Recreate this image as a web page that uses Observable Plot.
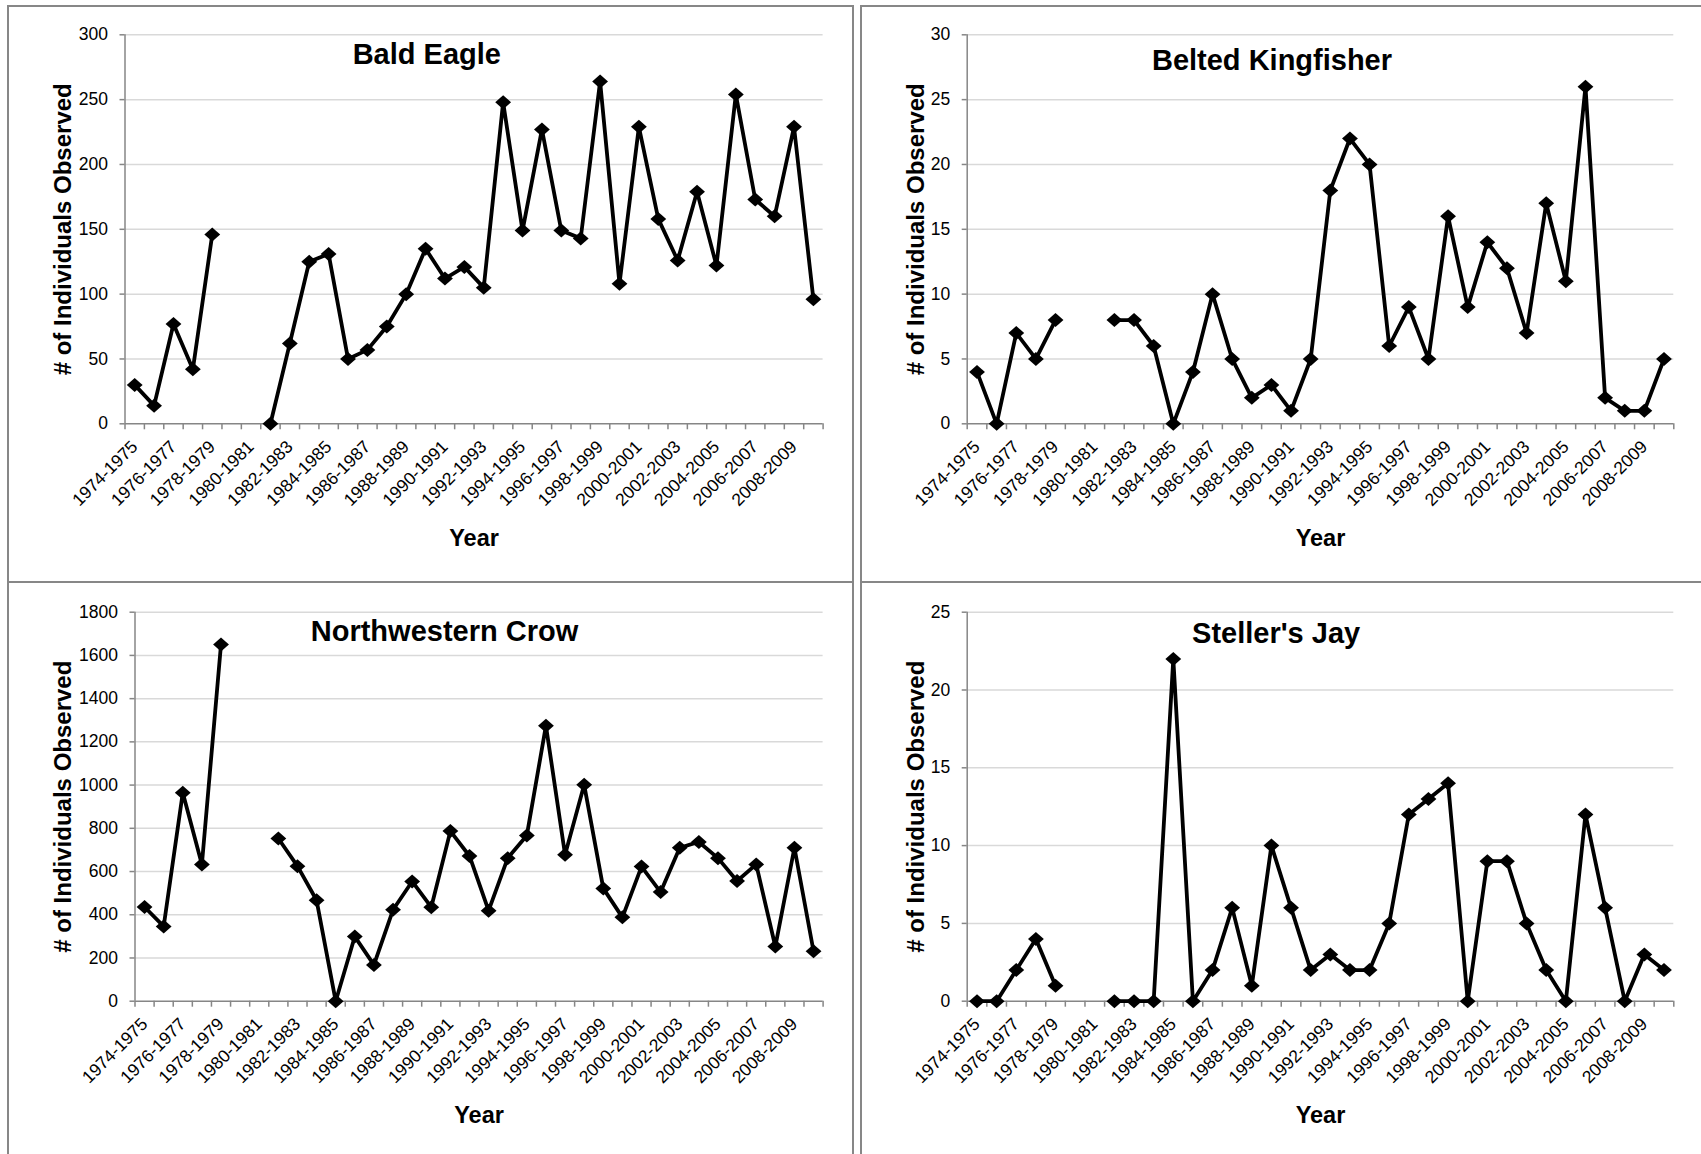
<!DOCTYPE html>
<html>
<head>
<meta charset="utf-8">
<script src="https://cdn.jsdelivr.net/npm/d3@7"></script>
<script src="https://cdn.jsdelivr.net/npm/@observablehq/plot@0.6"></script>
<style>
  html, body { margin: 0; padding: 0; background: #fff; }
  #board { position: relative; width: 1701px; height: 1154px; overflow: hidden; background: #fff; }
  .panel { position: absolute; box-sizing: border-box; border: 2px solid #878787; }
  .chart { position: absolute; }
</style>
</head>
<body>
<div id="board"></div>
<script>
// Christmas bird count seasons (x categories)
const seasons = [
  "1974-1975", "1975-1976", "1976-1977", "1977-1978", "1978-1979", "1979-1980",
  "1980-1981", "1981-1982", "1982-1983", "1983-1984", "1984-1985", "1985-1986",
  "1986-1987", "1987-1988", "1988-1989", "1989-1990", "1990-1991", "1991-1992",
  "1992-1993", "1993-1994", "1994-1995", "1995-1996", "1996-1997", "1997-1998",
  "1998-1999", "1999-2000", "2000-2001", "2001-2002", "2002-2003", "2003-2004",
  "2004-2005", "2005-2006", "2006-2007", "2007-2008", "2008-2009", "2009-2010"
];

// Individuals observed per season (null = no count that season)
const baldEagle = [30, 14, 77, 42, 146, null, null, 0, 62, 125, 131, 50, 57, 75, 100, 135, 112, 121,
  105, 248, 149, 227, 149, 143, 264, 108, 229, 158, 126, 179, 122, 254, 173, 160, 229, 96];
const beltedKingfisher = [4, 0, 7, 5, 8, null, null, 8, 8, 6, 0, 4, 10, 5, 2, 3, 1, 5,
  18, 22, 20, 6, 9, 5, 16, 9, 14, 12, 7, 17, 11, 26, 2, 1, 1, 5];
const northwesternCrow = [436, 346, 965, 633, 1651, null, null, 753, 625, 467, 0, 299, 168, 423, 554, 435, 787, 672,
  419, 662, 767, 1275, 678, 1001, 522, 388, 623, 505, 710, 737, 662, 556, 633, 253, 710, 231];
const stellersJay = [0, 0, 2, 4, 1, null, null, 0, 0, 0, 22, 0, 2, 6, 1, 10, 6, 2,
  3, 2, 2, 5, 12, 13, 14, 0, 9, 9, 5, 2, 0, 12, 6, 0, 3, 2];

// y-axis extents and tick steps
const yMaxes = [300, 30, 1800, 25];
const ySteps = [50, 5, 200, 5];
const titles = ["Bald Eagle", "Belted Kingfisher", "Northwestern Crow", "Steller's Jay"];
const series = [baldEagle, beltedKingfisher, northwesternCrow, stellersJay];

const xTitle = "Year";
const yTitle = "# of Individuals Observed";

// page layout of the four chart boxes (board pixels)
const layout = [
  { box: [7, 5, 847, 578], svg: [9, 7, 843, 574], frame: [124.5, 822.6, 34.3, 423.3], titleX: 426.3, titleBase: 63.5, yLabelX: 62.5, xLabelBase: 545.6 },
  { box: [860, 5, 900, 578], svg: [862, 7, 839, 574], frame: [966.7, 1673.3, 34.3, 423.3], titleX: 1271.5, titleBase: 69.5, yLabelX: 915.5, xLabelBase: 545.6 },
  { box: [7, 581, 847, 700], svg: [9, 583, 843, 571], frame: [134.5, 822.6, 611.7, 1000.7], titleX: 444, titleBase: 640.1, yLabelX: 62.5, xLabelBase: 1122 },
  { box: [860, 581, 900, 700], svg: [862, 583, 839, 571], frame: [966.7, 1673.3, 611.7, 1000.7], titleX: 1275.6, titleBase: 642, yLabelX: 915.5, xLabelBase: 1122 }
];

const font = "'Liberation Sans', Arial, Helvetica, sans-serif";
const axisGray = "#868686";

// a filled diamond, slightly wider than tall
const diamond = {
  draw(context, size) {
    const r = Math.sqrt(size / Math.PI);
    const w = r * 1.13, h = r;
    context.moveTo(0, -h);
    context.lineTo(w, 0);
    context.lineTo(0, h);
    context.lineTo(-w, 0);
    context.closePath();
  }
};

const board = document.getElementById("board");

series.forEach((values, k) => {
  const L = layout[k];
  const [bx, by, bw, bh] = L.box;
  const box = document.createElement("div");
  box.className = "panel";
  Object.assign(box.style, { left: bx + "px", top: by + "px", width: bw + "px", height: bh + "px" });
  board.appendChild(box);

  const [sx, sy, sw, sh] = L.svg;
  const [fl, fr, ft, fb] = L.frame;
  const n = seasons.length;
  const rows = seasons.map((season, i) => ({ season, pos: i + 0.5, value: values[i] }));
  const labelTicks = d3.range(0, n, 2).map(i => i + 0.5);
  const boundaryTicks = d3.range(0, n + 1);
  const yTicks = d3.range(0, yMaxes[k] + ySteps[k] / 2, ySteps[k]);
  const frameCx = (fl + fr) / 2;

  const chart = Plot.plot({
    width: sw,
    height: sh,
    marginLeft: fl - sx,
    marginRight: sx + sw - fr,
    marginTop: ft - sy,
    marginBottom: sy + sh - fb,
    style: { fontFamily: font, fontSize: "17.5px", color: "#000", background: "transparent" },
    x: { type: "linear", domain: [0, n] },
    y: { type: "linear", domain: [0, yMaxes[k]] },
    marks: [
      Plot.gridY(yTicks.filter(t => t > 0), { stroke: "#d9d9d9", strokeOpacity: 1, strokeWidth: 1.5 }),
      Plot.axisY(yTicks, { tickSize: 5, tickPadding: 12, tickFormat: d => String(d), stroke: axisGray, strokeWidth: 1.5, label: null }),
      Plot.axisX(boundaryTicks, { tickSize: 6, tickFormat: () => "", stroke: axisGray, strokeWidth: 1.5, label: null }),
      Plot.axisX(labelTicks, { tickSize: 0, tickPadding: 20, tickRotate: -45, tickFormat: t => seasons[t - 0.5], label: null }),
      Plot.ruleX([0], { stroke: axisGray, strokeWidth: 1.5 }),
      Plot.ruleY([0], { stroke: axisGray, strokeWidth: 1.5 }),
      Plot.line(rows, { x: "pos", y: "value", stroke: "#000", strokeWidth: 3.8, strokeLinejoin: "round" }),
      Plot.dot(rows.filter(d => d.value != null), { x: "pos", y: "value", symbol: diamond, r: 7, fill: "#000" }),
      Plot.text([titles[k]], {
        text: d => d, frameAnchor: "top", textAnchor: "middle", lineAnchor: "middle",
        dx: L.titleX - frameCx, dy: L.titleBase - 0.32 * 29 - ft,
        fontSize: 29, fontWeight: "bold", fill: "#000"
      }),
      Plot.text([xTitle], {
        text: d => d, frameAnchor: "bottom", textAnchor: "middle", lineAnchor: "middle",
        dy: L.xLabelBase - 0.32 * 23.5 - fb,
        fontSize: 23.5, fontWeight: "bold", fill: "#000"
      }),
      Plot.text([yTitle], {
        text: d => d, frameAnchor: "left", textAnchor: "middle", lineAnchor: "middle", rotate: -90,
        dx: L.yLabelX - fl,
        fontSize: 24, fontWeight: "bold", fill: "#000"
      })
    ]
  });
  chart.classList.add("chart");
  Object.assign(chart.style, { left: sx + "px", top: sy + "px", position: "absolute", maxWidth: "none" });
  board.appendChild(chart);
});
</script>
</body>
</html>
